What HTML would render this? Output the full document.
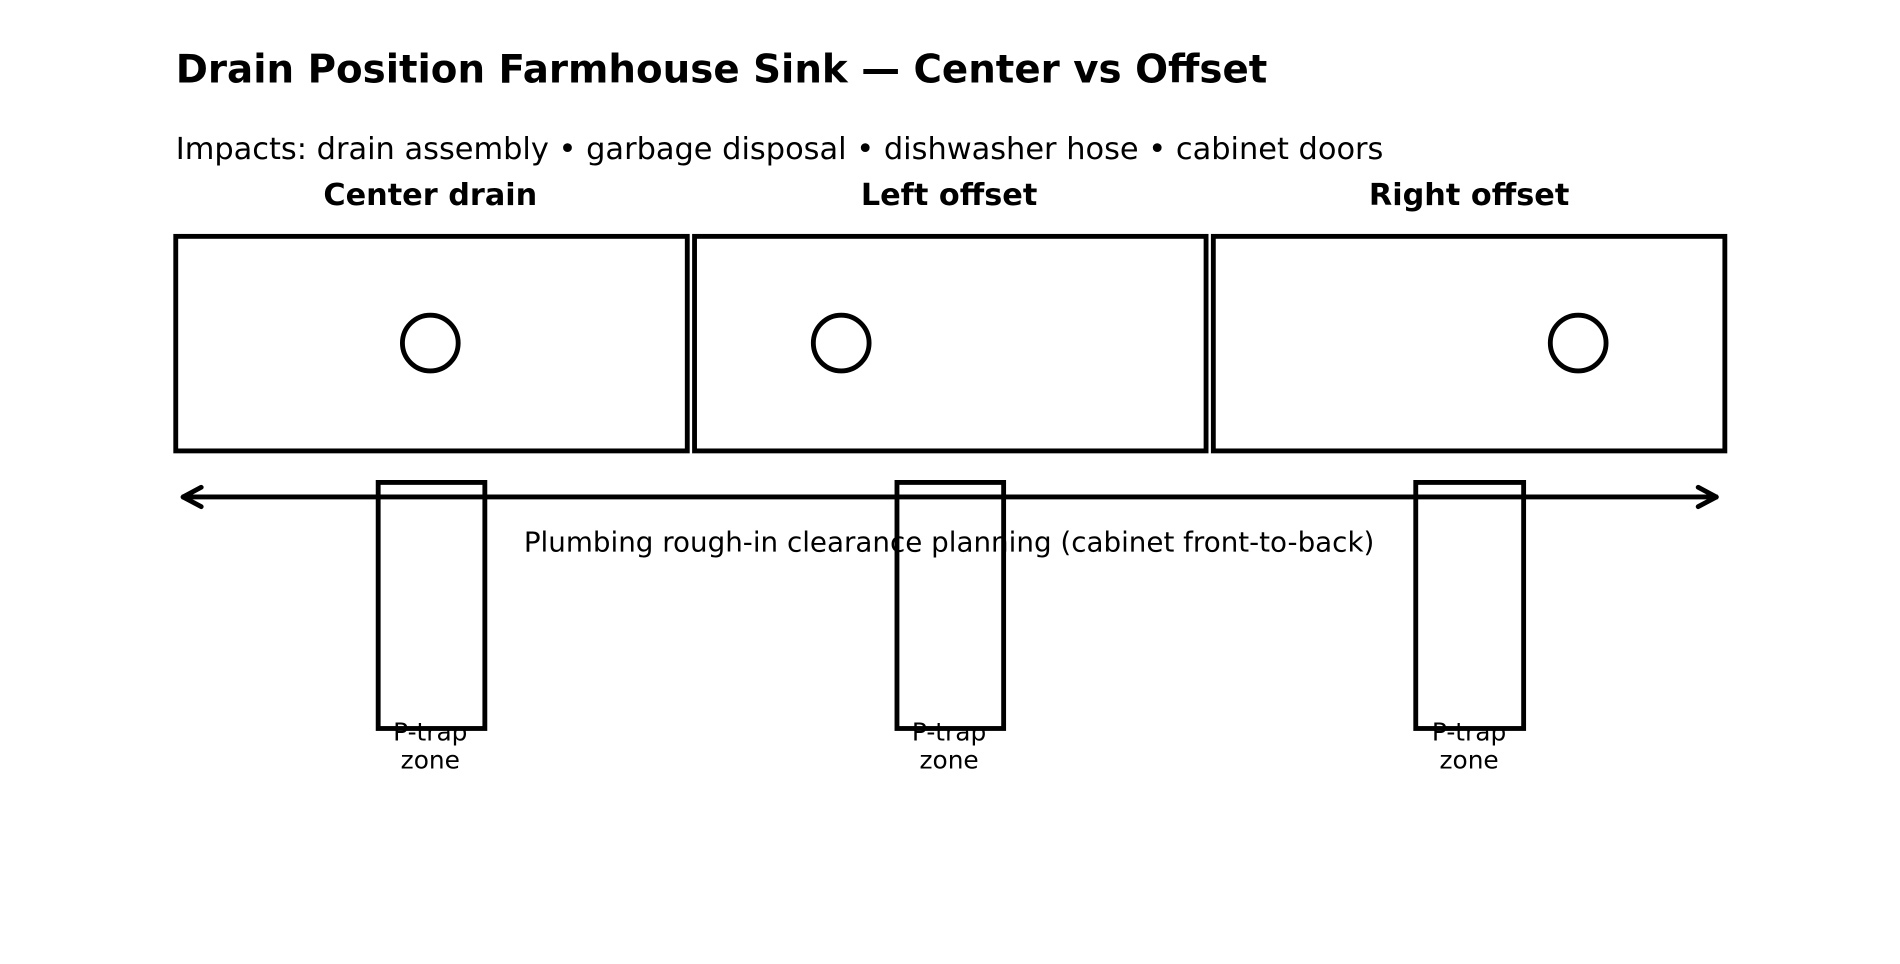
<!DOCTYPE html>
<html><head><meta charset="utf-8"><style>html,body{margin:0;padding:0;background:#fff}svg{display:block}</style></head>
<body>
<svg width="1900" height="964" viewBox="0 0 1567.5 795.3" xmlns="http://www.w3.org/2000/svg" font-family="DejaVu Sans, Liberation Sans, sans-serif">
<text x="145" y="68" font-size="32" font-weight="bold">Drain Position Farmhouse Sink — Center vs Offset</text>
<text x="145" y="131" font-size="25.1">Impacts: drain assembly • garbage disposal • dishwasher hose • cabinet doors</text>
<g font-size="25" font-weight="bold" text-anchor="middle">
<text x="355" y="169">Center drain</text><text x="783" y="169">Left offset</text><text x="1212" y="169">Right offset</text></g>
<g fill="none" stroke="#000" stroke-width="4">
<rect x="145" y="195" width="422" height="177"/>
<rect x="573" y="195" width="422" height="177"/>
<rect x="1001" y="195" width="422" height="177"/>
<circle cx="355" cy="283" r="23"/><circle cx="694" cy="283" r="23"/><circle cx="1302" cy="283" r="23"/>
<line x1="150" y1="410" x2="1417" y2="410"/>
<polyline points="166,402 151,410 166,418" stroke-linecap="round" stroke-linejoin="round"/>
<polyline points="1401,402 1416,410 1401,418" stroke-linecap="round" stroke-linejoin="round"/>
<rect x="312" y="398" width="88" height="203"/>
<rect x="740" y="398" width="88" height="203"/>
<rect x="1168" y="398" width="89" height="203"/>
</g>
<text x="783" y="455" font-size="22.9" text-anchor="middle">Plumbing rough-in clearance planning (cabinet front-to-back)</text>
<g font-size="20.5" text-anchor="middle">
<text x="355" y="611">P-trap</text><text x="355" y="634">zone</text>
<text x="783" y="611">P-trap</text><text x="783" y="634">zone</text>
<text x="1212" y="611">P-trap</text><text x="1212" y="634">zone</text>
</g>
</svg>
</body></html>
